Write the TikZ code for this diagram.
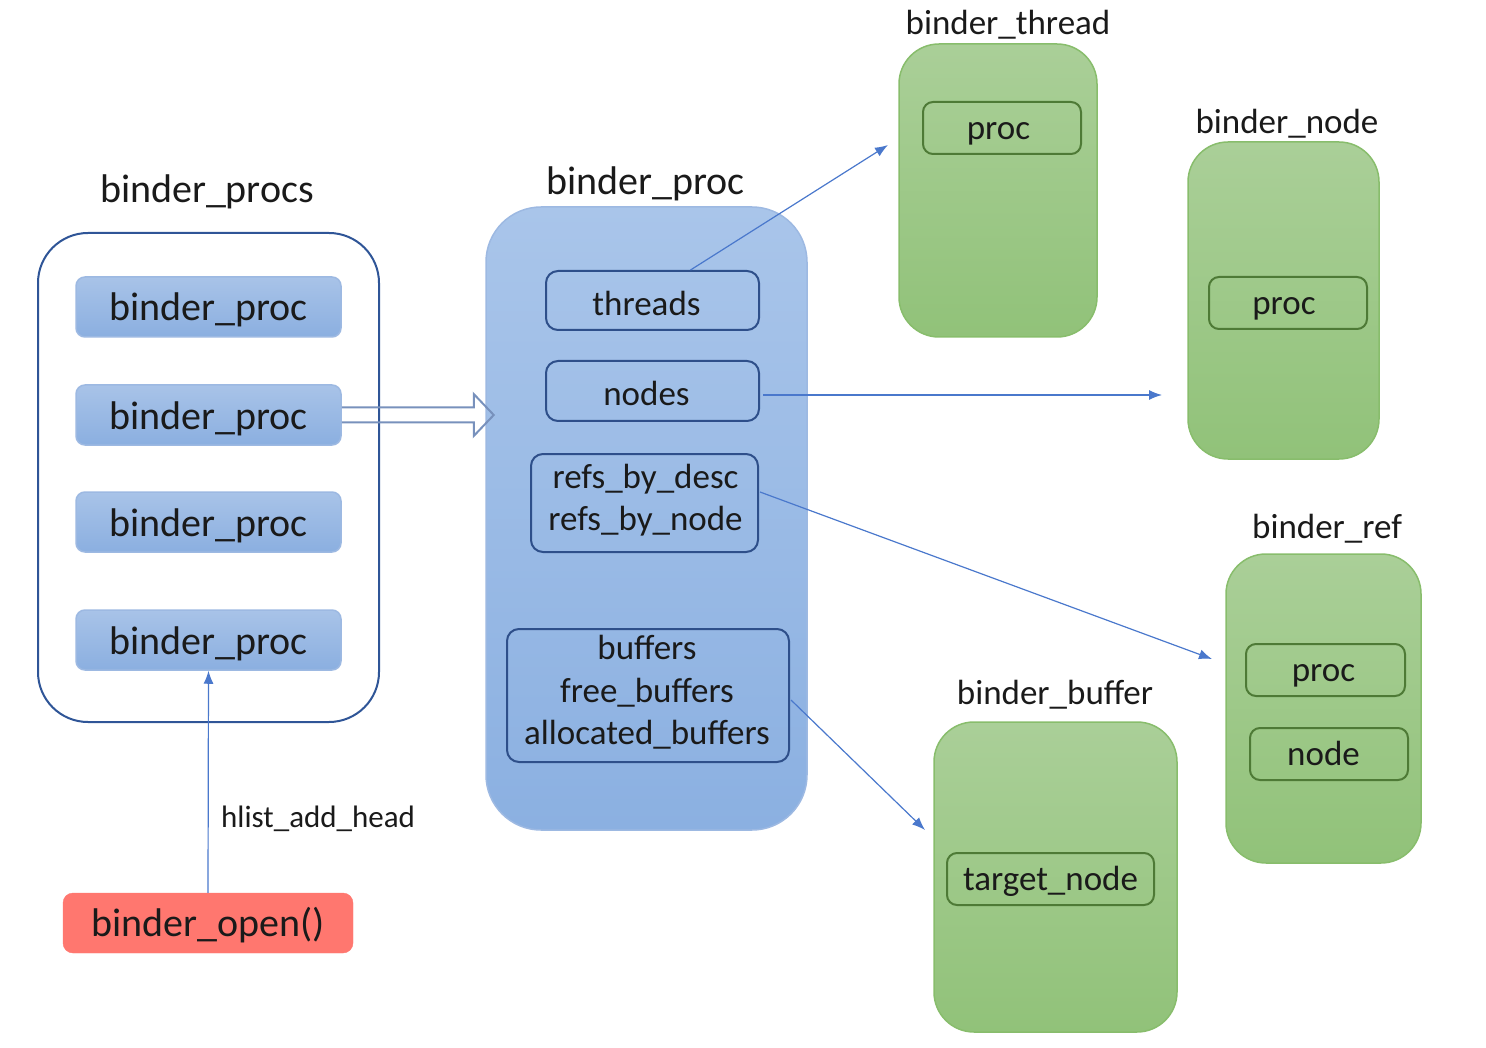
\documentclass[tikz,border=0pt]{standalone}
\usepackage{fontspec}
\setmainfont{Carlito}
\usetikzlibrary{arrows.meta,calc}
\newcommand\FBig{\fontsize{40}{48}\selectfont}
\newcommand\FMid{\fontsize{35}{42.5}\selectfont}
\newcommand\FSmall{\fontsize{31}{37}\selectfont}
\definecolor{dkblue}{HTML}{2F5597}
\definecolor{fieldline}{HTML}{2E4F8A}
\definecolor{pboxtop}{HTML}{A8C3E8}
\definecolor{pboxbot}{HTML}{8BAFE0}
\definecolor{pboxline}{HTML}{9DB9E2}
\definecolor{bigtop}{HTML}{A9C5EA}
\definecolor{bigbot}{HTML}{8BB0E1}
\definecolor{gtop}{HTML}{AACF98}
\definecolor{gbot}{HTML}{91C279}
\definecolor{gline}{HTML}{88BD6C}
\definecolor{gfield}{HTML}{4E7A36}
\definecolor{linkblue}{HTML}{4A78CC}
\definecolor{hollowc}{HTML}{7891BC}
\definecolor{redfill}{HTML}{FF776F}
\definecolor{txt}{HTML}{1A1A1A}
\begin{document}
\begin{tikzpicture}[x=1pt,y=-1pt,
  every node/.style={text=txt},
  outerbox/.style={draw=dkblue, line width=2pt, rounded corners=50pt, fill=white, inner sep=0pt},
  pbox/.style={draw=pboxline, line width=1.5pt, rounded corners=9pt, top color=pboxtop, bottom color=pboxbot, font=\FBig, text height=32pt, text depth=4pt, inner sep=0pt},
  bigbox/.style={draw=pboxline, line width=1.5pt, rounded corners=55pt, top color=bigtop, bottom color=bigbot, inner sep=0pt},
  field/.style={draw=fieldline, line width=2pt, rounded corners=12pt, font=\FMid, inner sep=0pt},
  onel/.style={text height=30.5pt, text depth=1pt},
  multi/.style={font=\FMid, align=center, inner sep=0pt},
  gbox/.style={draw=gline, line width=1.5pt, rounded corners=40pt, top color=gtop, bottom color=gbot, inner sep=0pt},
  gfld/.style={draw=gfield, line width=2pt, rounded corners=10pt, font=\FMid, text height=27.5pt, text depth=4pt, inner sep=0pt},
  title/.style={font=\FBig, anchor=base, inner sep=0pt},
  gtitle/.style={font=\FMid, anchor=base, inner sep=0pt},
  link/.style={draw=linkblue, line width=1.2pt, -{Latex[length=13pt,width=10pt]}},
  hollow/.style={draw=hollowc, line width=2pt, line join=miter},
  redbox/.style={draw=redfill, fill=redfill, rounded corners=10pt, font=\FBig, text height=31pt, text depth=5pt, inner sep=0pt}
]
\useasboundingbox (0,0) rectangle (1486,1048);

% left group
\node[title] (tprocs) at (207,203) {binder\_procs};
\node[outerbox, minimum width=341pt, minimum height=489pt] (outer) at (208.5,477.5) {};
\node[pbox, minimum width=265pt, minimum height=60pt] (p1) at (208.5,307) {binder\_proc};
\node[pbox, minimum width=265pt, minimum height=60pt] (p2) at (208.5,415) {binder\_proc};
\node[pbox, minimum width=265pt, minimum height=60pt] (p3) at (208.5,522) {binder\_proc};
\node[pbox, minimum width=265pt, minimum height=60pt] (p4) at (208.5,640) {binder\_proc};
\node[redbox, minimum width=290pt, minimum height=60pt] (open) at (208,923) {binder\_open()};
\node[font=\FSmall, anchor=base west, inner sep=0pt] (hlist) at (221,827) {hlist\_add\_head};

% binder_proc
\node[title] (tproc) at (645.5,195) {binder\_proc};
\node[bigbox, minimum width=321pt, minimum height=623pt] (big) at (646.5,518.5) {};
\node[field, onel, minimum width=213pt, minimum height=59pt] (threads) at (652.5,300.5) {\hspace*{-12pt}threads};
\node[field, onel, minimum width=213pt, minimum height=60pt] (nodes) at (652.5,391) {\hspace*{-12pt}nodes};
\node[field, minimum width=227pt, minimum height=98pt] (refs) at (644.5,503) {};
\node[multi] (refsT) at ($(refs.center)+(1,-3)$) {refs\_by\_desc\\refs\_by\_node};
\node[field, minimum width=282pt, minimum height=133pt] (buffers) at (648,695.5) {};
\node[multi] (buffersT) at ($(buffers.center)+(-1,-3)$) {buffers\\free\_buffers\\allocated\_buffers};

% green structures
\node[gtitle] (tthread) at (1008,35) {binder\_thread};
\node[gbox, minimum width=198pt, minimum height=293pt] (gthread) at (998,190.5) {};
\node[gfld, minimum width=158pt, minimum height=52pt] (tproc1) at (1002,128) {\hspace*{-7pt}proc};

\node[gtitle] (tnode) at (1287,134) {binder\_node};
\node[gbox, minimum width=191pt, minimum height=317pt] (gnode) at (1283.5,300.5) {};
\node[gfld, minimum width=158pt, minimum height=52pt] (nproc) at (1288,303) {\hspace*{-8pt}proc};

\node[gtitle] (tref) at (1327,538) {binder\_ref};
\node[gbox, minimum width=195pt, minimum height=309pt] (gref) at (1323.5,708.5) {};
\node[gfld, minimum width=159pt, minimum height=52pt] (rproc) at (1325.5,670) {\hspace*{-4pt}proc};
\node[gfld, minimum width=158pt, minimum height=52pt] (rnode) at (1329,754) {\hspace*{-11pt}node};

\node[gtitle] (tbuf) at (1055,704) {binder\_buffer};
\node[gbox, minimum width=243pt, minimum height=310pt] (gbuf) at (1055.5,877) {};
\node[gfld, minimum width=207pt, minimum height=52pt] (btarget) at (1050.5,879) {target\_node};

% connector end points
\coordinate (eThread) at (888,145);
\coordinate (eNode) at (1162,395);
\coordinate (eRef) at (1212,659);
\coordinate (eBuf) at (925,830);

% connectors
\draw[hollow] ($(p2.east)+(0,-7.5)$) -- ++(132,0) -- ++(0,-13.5) -- ++(20,21) -- ++(-20,21) -- ++(0,-13.5) -- ++(-132,0);
\draw[link] (open.north) -- (p4.south);
\draw[link] ($(threads.north)+(38,0)$) -- (eThread);
\draw[link] ($(nodes.east)+(3,4)$) -- (eNode);
\draw[link] ($(refs.east)+(1,-11)$) -- (eRef);
\draw[link] ($(buffers.east)+(1,4.5)$) -- (eBuf);
\end{tikzpicture}
\end{document}
